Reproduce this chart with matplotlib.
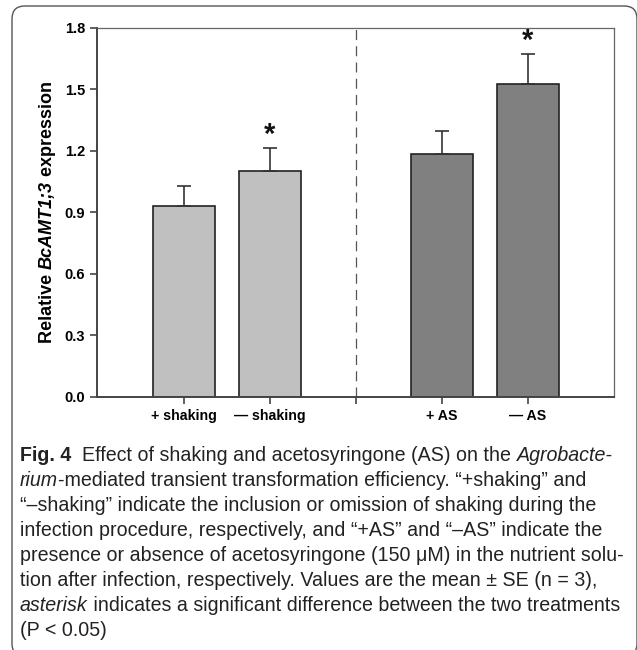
import matplotlib
matplotlib.use("Agg")
import matplotlib.pyplot as plt
from matplotlib.patches import FancyBboxPatch

# data
labels = ["+ shaking", "\u2014 shaking", "", "+ AS", "\u2014 AS"]
positions = [1, 2, 4, 5]
means = [0.93, 1.10, 1.186, 1.527]
errors = [0.097, 0.113, 0.112, 0.143]
colors = ["#c0c0c0", "#c0c0c0", "#808080", "#808080"]
signif = [False, True, False, True]

caption_lines = [
    [("Fig. 4", "bold"), ("  Effect of shaking and acetosyringone (AS) on the ", "normal"), ("Agrobacte-", "italic")],
    [("rium", "italic"), ("-mediated transient transformation efficiency. \u201c+shaking\u201d and", "normal")],
    [("\u201c\u2013shaking\u201d indicate the inclusion or omission of shaking during the", "normal")],
    [("infection procedure, respectively, and \u201c+AS\u201d and \u201c\u2013AS\u201d indicate the", "normal")],
    [("presence or absence of acetosyringone (150 \u03bcM) in the nutrient solu-", "normal")],
    [("tion after infection, respectively. Values are the mean \u00b1 SE (n = 3),", "normal")],
    [("asterisk", "italic"), (" indicates a significant difference between the two treatments", "normal")],
    [("(P < 0.05)", "normal")],
]

plt.rcParams['font.family'] = ['Liberation Sans', 'DejaVu Sans']

fig = plt.figure(figsize=(6.37, 6.50), dpi=100)
ax = fig.add_axes([0.153, 0.3897, 0.8106, 0.5677])

ax.bar(positions, means, width=0.72, color=colors, edgecolor="#222222", linewidth=1.2, zorder=2)
ax.errorbar(positions, means, yerr=[[0] * len(errors), errors], fmt="none",
            ecolor="#333333", elinewidth=1.2, capsize=5, capthick=1.2, zorder=3)
for x, m, e, s in zip(positions, means, errors, signif):
    if s:
        ax.text(x, m + e - 0.005, "*", ha="center", va="bottom", fontsize=21,
                fontweight="bold", color="#111111")

ax.axvline(3, color="#555555", linewidth=0.9, linestyle=(0, (8, 5)), zorder=1)

ax.set_xlim(0, 6)
ax.set_ylim(0, 1.8)
ax.set_yticks([0.0, 0.3, 0.6, 0.9, 1.2, 1.5, 1.8])
ax.set_yticklabels([f"{v:.1f}" for v in ax.get_yticks()], fontsize=10.5, fontweight="bold")
ax.set_xticks([1, 2, 3, 4, 5])
ax.set_xticklabels(labels, fontsize=10.2, fontweight="bold")
ax.tick_params(axis="both", direction="out", length=5, width=1.2, color="#444444", pad=4)

for side in ["left", "bottom"]:
    ax.spines[side].set_color("#444444")
    ax.spines[side].set_linewidth(1.4)
for side in ["top", "right"]:
    ax.spines[side].set_color("#666666")
    ax.spines[side].set_linewidth(0.9)

renderer = fig.canvas.get_renderer()

# y label with a bold-italic gene name, built piece by piece along the axis
ylab = [("Relative ", "normal"), ("BcAMT1;3", "italic"), (" expression", "normal")]
pieces = []
total = 0
for txt, st in ylab:
    t = fig.text(0, 0, txt, rotation=90, rotation_mode="anchor", ha="left", va="baseline",
                 fontsize=13, fontweight="bold", style=st)
    h = t.get_window_extent(renderer).height
    pieces.append((t, h))
    total += h
y0 = (650 - 212) - total / 2
for t, h in pieces:
    t.set_position((52 / 637, y0 / 650))
    y0 += h

# caption below the plot
cap_font = ['Liberation Sans Narrow', 'Liberation Sans']
ybase = 650 - 461
for line in caption_lines:
    x = 20
    for txt, st in line:
        w = "bold" if st == "bold" else "normal"
        s = "italic" if st == "italic" else "normal"
        t = fig.text(x / 637, ybase / 650, txt, fontsize=14.1, family=cap_font,
                     fontweight=w, style=s, ha="left", va="baseline", color="#222222")
        x += t.get_window_extent(renderer).width
    ybase -= 25

# rounded frame around the whole figure
frame = FancyBboxPatch((12 / 637, -0.01), 625 / 637, (644 / 650) + 0.01,
                       boxstyle="round,pad=0,rounding_size=0.02", transform=fig.transFigure,
                       fill=False, edgecolor="#555555", linewidth=1.0)
fig.patches.append(frame)

fig.savefig("out.png", dpi=100)
